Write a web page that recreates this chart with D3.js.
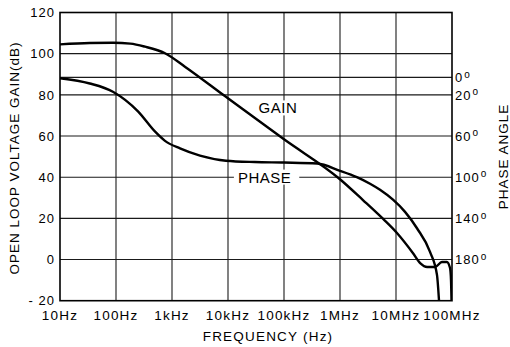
<!DOCTYPE html>
<html><head><meta charset="utf-8">
<script src="https://cdn.jsdelivr.net/npm/d3@7"></script>
<style>
html,body{margin:0;padding:0;background:#fff;}
svg{display:block;font-family:"Liberation Sans",Arial,Helvetica,sans-serif;}
</style></head>
<body><svg id="c" width="510" height="347"></svg>
<script>
// ---- data ----
const freqTicks = [10, 100, 1e3, 1e4, 1e5, 1e6, 1e7, 1e8];
const freqLabels = ["10Hz", "100Hz", "1kHz", "10kHz", "100kHz", "1MHz", "10MHz", "100MHz"];
const gainTicks = [-20, 0, 20, 40, 60, 80, 100, 120];
const gainTickLabels = ["- 20", "0", "20", "40", "60", "80", "100", "120"];
const phaseTicks = [0, 20, 60, 100, 140, 180];
const phaseTickLabels = ["0", "20", "60", "100", "140", "180"];

const gainFreq = [10, 34, 90, 180, 330, 750, 1700, 8800, 1e5, 1e6, 2.57e6, 5.9e6, 10.4e6, 20e6, 27e6, 36e6, 50e6, 66e6, 81e6, 92e6, 96e6, 98e6, 99e6];
const gainDb   = [104.5, 105.2, 105.3, 104.9, 103.4, 100.2, 93.7, 79.4, 58.4, 39, 28.9, 19.7, 12.9, 3.2, -1.7, -3.6, -3.6, -1.2, -1.2, -4, -10, -20, -26];

const phaseFreq = [10, 34, 88, 247, 500, 750, 1390, 3160, 9200, 3e4, 1e5, 3.9e5, 1e6, 2e6, 3.44e6, 5.18e6, 8.83e6, 14.5e6, 23.7e6, 40.5e6, 54e6, 58.6e6, 63e6];
const phaseDeg  = [1, 7, 16.4, 36, 55.8, 64.7, 72, 79, 84, 85.3, 85.8, 86.7, 93.8, 100, 106.4, 112.3, 121.9, 133.7, 149.6, 172.6, 195.2, 219.8, 250];

// ---- scales ----
const svg = d3.select("#c");
const x = d3.scaleLog().domain([10, 1e8]).range([60, 452]);
const yG = d3.scaleLinear().domain([-20, 120]).range([300.7, 12.5]);
const yP = d3.scaleLinear().domain([0, 20, 180]).range([yG(88.5), yG(80), yG(0)]);

const L = x(10), R = x(1e8), T = yG(120), B = yG(-20);

svg.append("defs").append("clipPath").attr("id", "clip")
  .append("rect").attr("x", L).attr("y", T).attr("width", R - L).attr("height", B - T);

// ---- grid ----
const grid = svg.append("g").attr("stroke", "#1a1a1a").attr("stroke-width", 1.1);
grid.selectAll(".vg").data(freqTicks.slice(1, -1)).join("line")
  .attr("x1", d => x(d)).attr("x2", d => x(d)).attr("y1", T).attr("y2", B);
grid.selectAll(".hg").data(gainTicks.slice(1, -1)).join("line")
  .attr("x1", L).attr("x2", R).attr("y1", d => yG(d)).attr("y2", d => yG(d));
grid.append("line").attr("x1", L).attr("x2", R).attr("y1", yP(0)).attr("y2", yP(0));

// ---- curves ----
const plot = svg.append("g").attr("clip-path", "url(#clip)");
const gainData = gainFreq.map((f, i) => [f, gainDb[i]]);
const phaseData = phaseFreq.map((f, i) => [f, phaseDeg[i]]);
plot.append("path").datum(gainData)
  .attr("fill", "none").attr("stroke", "#000").attr("stroke-width", 2.4)
  .attr("d", d3.line().x(d => x(d[0])).y(d => yG(d[1])).curve(d3.curveMonotoneX));
plot.append("path").datum(phaseData)
  .attr("fill", "none").attr("stroke", "#000").attr("stroke-width", 2.4)
  .attr("d", d3.line().x(d => x(d[0])).y(d => yP(d[1])).curve(d3.curveMonotoneX));

// ---- frame ----
svg.append("rect").attr("x", L).attr("y", T).attr("width", R - L).attr("height", B - T)
  .attr("fill", "none").attr("stroke", "#000").attr("stroke-width", 1.6);

// ---- curve labels ----
function label(txt, cx, cy, padL, padR) {
  const g = svg.append("g");
  const t = g.append("text").attr("x", cx).attr("y", cy).attr("dy", "0.36em")
    .attr("text-anchor", "middle").attr("font-size", 15).attr("letter-spacing", 0.5).text(txt);
  const bb = t.node().getBBox();
  g.insert("rect", "text").attr("x", bb.x - padL).attr("y", bb.y + 1)
    .attr("width", bb.width + padL + padR).attr("height", bb.height - 2).attr("fill", "#fff");
}
label("GAIN", x(78e3), yG(73.6), 2, 2);
label("PHASE", x(45e3), yP(100), 4, 8);

// ---- axis tick labels ----
svg.append("g").selectAll("text").data(gainTicks).join("text")
  .attr("x", 55).attr("y", d => yG(d)).attr("dy", "0.36em").attr("text-anchor", "end")
  .attr("font-size", 13).attr("letter-spacing", 1)
  .text((d, i) => gainTickLabels[i]);

svg.append("g").selectAll("text").data(freqTicks).join("text")
  .attr("x", d => x(d)).attr("y", 320).attr("text-anchor", "middle")
  .attr("font-size", 13.5).attr("letter-spacing", 1.2)
  .text((d, i) => freqLabels[i]);

const pl = svg.append("g").selectAll("text").data(phaseTicks).join("text")
  .attr("x", R + 3).attr("y", d => yP(d)).attr("dy", "0.36em")
  .attr("font-size", 13).attr("letter-spacing", 1);
pl.append("tspan").text((d, i) => phaseTickLabels[i]);
pl.append("tspan").attr("font-size", 10).attr("dy", "-0.45em").attr("dx", 1).text("o");

// ---- axis titles ----
svg.append("text").attr("transform", `translate(19,158) rotate(-90)`)
  .attr("text-anchor", "middle").attr("font-size", 13.5).attr("letter-spacing", 1)
  .text("OPEN LOOP VOLTAGE GAIN(dB)");
svg.append("text").attr("transform", `translate(508,${(T + B) / 2}) rotate(-90)`)
  .attr("text-anchor", "middle").attr("font-size", 13.5).attr("letter-spacing", 1)
  .text("PHASE ANGLE");
svg.append("text").attr("x", (L + R) / 2 + 12).attr("y", 341).attr("text-anchor", "middle")
  .attr("font-size", 13.5).attr("letter-spacing", 1.2)
  .text("FREQUENCY  (Hz)");
</script></body></html>
